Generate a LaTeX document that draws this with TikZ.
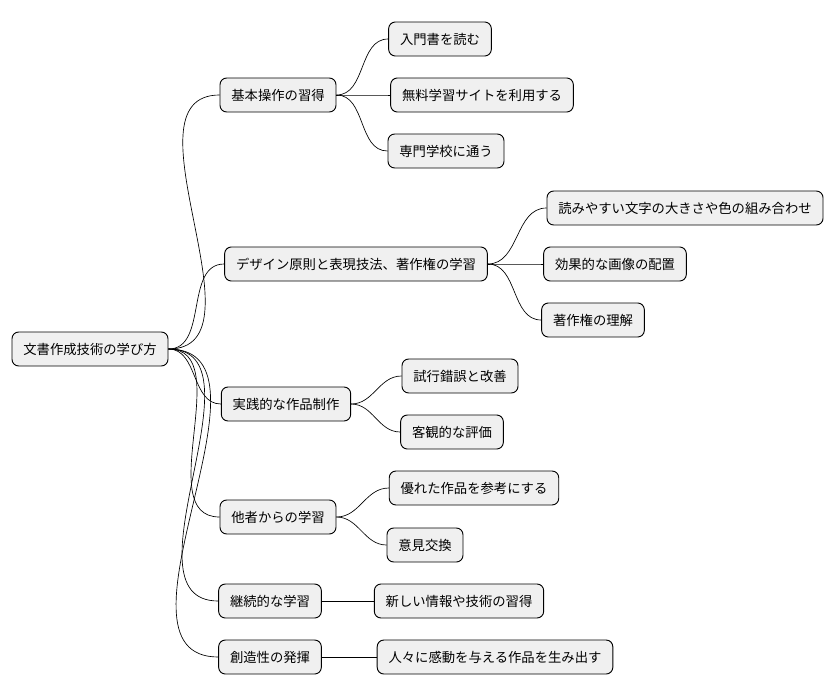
\documentclass[tikz,border=0pt]{standalone}
\usepackage{fontspec}
\setmainfont{Noto Sans CJK JP}
\begin{document}
\begin{tikzpicture}[x=0.75pt,y=-0.75pt,
  topic/.style={draw, rounded corners=5pt, fill=black!6, minimum height=25.5pt,
    inner xsep=8.5pt, font=\fontsize{10}{12}\selectfont, line width=0.7pt},
  link/.style={line width=0.5pt}]
\useasboundingbox (0,0) rectangle (838,696);

\node[topic] (root) at (90,349) {文書作成技術の学び方};

\node[topic] (a) at (278,95) {基本操作の習得};
\node[topic] (b) at (356,264) {デザイン原則と表現技法、著作権の学習};
\node[topic] (c) at (286,404) {実践的な作品制作};
\node[topic] (d) at (278,517) {他者からの学習};
\node[topic] (e) at (270,601) {継続的な学習};
\node[topic] (f) at (270,657) {創造性の発揮};

\node[topic] (a1) at (440,39) {入門書を読む};
\node[topic] (a2) at (482,95) {無料学習サイトを利用する};
\node[topic] (a3) at (446,151) {専門学校に通う};
\node[topic] (b1) at (685,208) {読みやすい文字の大きさや色の組み合わせ};
\node[topic] (b2) at (615,264) {効果的な画像の配置};
\node[topic] (b3) at (593,320) {著作権の理解};
\node[topic] (c1) at (460,376) {試行錯誤と改善};
\node[topic] (c2) at (452,432) {客観的な評価};
\node[topic] (d1) at (474,488) {優れた作品を参考にする};
\node[topic] (d2) at (425,545) {意見交換};
\node[topic] (e1) at (459,601) {新しい情報や技術の習得};
\node[topic] (f1) at (495,657) {人々に感動を与える作品を生み出す};

\foreach \n in {a,b,c,d,e,f}
  \draw[link] (root.east) to[out=0,in=180] (\n.west);
\foreach \p/\n in {a/a1,a/a2,a/a3,b/b1,b/b2,b/b3,c/c1,c/c2,d/d1,d/d2}
  \draw[link] (\p.east) to[out=0,in=180] (\n.west);
\draw[link] (e.east) -- (e1.west);
\draw[link] (f.east) -- (f1.west);

\end{tikzpicture}
\end{document}
